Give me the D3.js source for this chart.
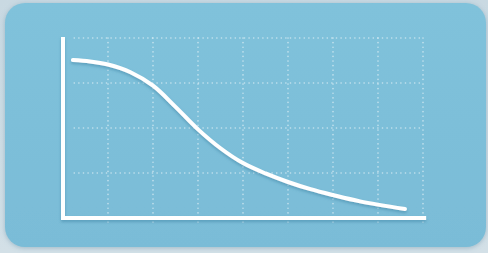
<!DOCTYPE html>
<meta charset="utf-8">
<title>Curve</title>
<style>
html, body { margin: 0; padding: 0; }
body { width: 488px; height: 253px; overflow: hidden; background: #cfdde5; }
</style>
<body>
<script src="https://d3js.org/d3.v7.min.js"></script>
<script>
// grid cells on each axis
var xTicks = [1, 2, 3, 4, 5, 6, 7, 8];
var yTicks = [1, 2, 3, 4];

// curve points (grid units)
var curveX = [0.22, 0.6, 1.0, 1.5, 2.0, 2.5, 3.0, 3.5, 4.0, 4.5, 5.0, 5.5, 6.0, 6.6, 7.6];
var curveY = [3.51, 3.48, 3.41, 3.24, 2.94, 2.47, 1.97, 1.55, 1.22, 0.99, 0.8, 0.64, 0.51, 0.37, 0.2];

var W = 488, H = 253;
var margin = {top: 38, left: 63};
var width = 360, height = 180;

var svg = d3.select("body").append("svg")
    .attr("width", W)
    .attr("height", H);

var defs = svg.append("defs");

var bg = defs.append("linearGradient").attr("id", "bg")
    .attr("x1", 0).attr("y1", 0).attr("x2", 0).attr("y2", 1);
bg.append("stop").attr("offset", "0%").attr("stop-color", "#c9d9e2");
bg.append("stop").attr("offset", "100%").attr("stop-color", "#d3e0e7");

var card = defs.append("linearGradient").attr("id", "card")
    .attr("x1", 0).attr("y1", 0).attr("x2", 0).attr("y2", 1);
card.append("stop").attr("offset", "0%").attr("stop-color", "#80c2db");
card.append("stop").attr("offset", "100%").attr("stop-color", "#7abcd7");

var cardShadow = defs.append("filter").attr("id", "cardShadow")
    .attr("x", "-10%").attr("y", "-10%").attr("width", "120%").attr("height", "120%");
cardShadow.append("feDropShadow")
    .attr("dx", 0).attr("dy", 1).attr("stdDeviation", 2.5)
    .attr("flood-color", "#5f8aa0").attr("flood-opacity", 0.45);

var lineShadow = defs.append("filter").attr("id", "lineShadow")
    .attr("x", "-10%").attr("y", "-20%").attr("width", "120%").attr("height", "150%");
lineShadow.append("feDropShadow")
    .attr("dx", 0).attr("dy", 2).attr("stdDeviation", 1.6)
    .attr("flood-color", "#3f86a6").attr("flood-opacity", 0.55);

svg.append("rect")
    .attr("width", W).attr("height", H)
    .attr("fill", "url(#bg)");

svg.append("rect")
    .attr("x", 5).attr("y", 3)
    .attr("width", 481).attr("height", 244)
    .attr("rx", 20).attr("ry", 20)
    .attr("fill", "url(#card)")
    .attr("filter", "url(#cardShadow)");

var g = svg.append("g")
    .attr("transform", "translate(" + margin.left + "," + margin.top + ")");

var x = d3.scaleLinear().domain([0, 8]).range([0, width]);
var y = d3.scaleLinear().domain([0, 4]).range([height, 0]);

// dotted grid
var grid = g.append("g")
    .attr("stroke", "#ffffff")
    .attr("stroke-opacity", 0.55)
    .attr("stroke-width", 1.6)
    .attr("stroke-linecap", "round")
    .attr("stroke-dasharray", "0.1,4.5");

grid.selectAll(".v").data(xTicks).enter().append("line")
    .attr("x1", function(d) { return x(d); })
    .attr("x2", function(d) { return x(d); })
    .attr("y1", y(4))
    .attr("y2", y(-0.17));

grid.selectAll(".h").data(yTicks).enter().append("line")
    .attr("x1", x(0.25))
    .attr("x2", x(8))
    .attr("y1", function(d) { return y(d); })
    .attr("y2", function(d) { return y(d); });

// axes
var axes = g.append("g")
    .attr("filter", "url(#lineShadow)")
    .attr("stroke", "#ffffff")
    .attr("stroke-width", 4)
    .attr("fill", "none");

axes.append("path")
    .attr("d", d3.line()([[x(0), y(4.02)], [x(0), y(0)], [x(8.07), y(0)]]))
    .attr("stroke-linejoin", "miter")
    .attr("stroke-linecap", "butt");

// curve
var pts = curveX.map(function(d, i) { return [d, curveY[i]]; });
var line = d3.line()
    .x(function(d) { return x(d[0]); })
    .y(function(d) { return y(d[1]); })
    .curve(d3.curveCatmullRom.alpha(0.5));

g.append("path")
    .datum(pts)
    .attr("d", line)
    .attr("fill", "none")
    .attr("stroke", "#ffffff")
    .attr("stroke-width", 4)
    .attr("stroke-linecap", "round")
    .attr("filter", "url(#lineShadow)");
</script>
</body>
